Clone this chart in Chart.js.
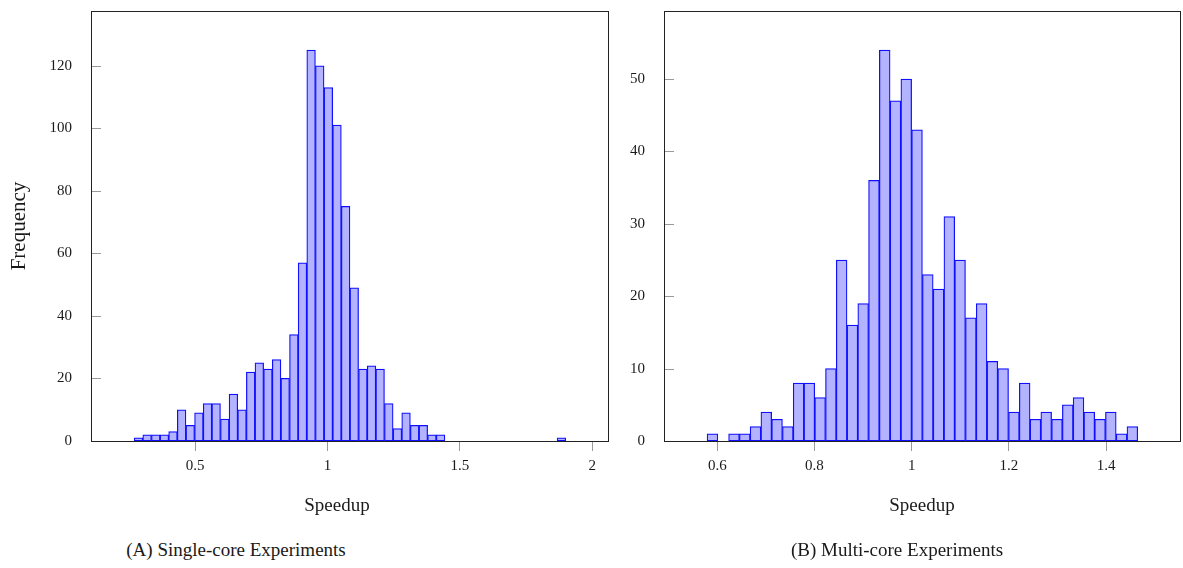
<!DOCTYPE html>
<html>
<head>
<meta charset="utf-8">
<script src="https://cdn.jsdelivr.net/npm/chart.js@4.4.1/dist/chart.umd.min.js"></script>
<style>
    body { margin: 0; width: 1183px; height: 568px; background: #fff; position: relative; overflow: hidden; font-family: "Liberation Serif", serif; color: #1a1a1a; }
    canvas { position: absolute; top: 0; }
    #single-chart { left: 0; }
    #multi-chart { left: 620px; }
    .label { position: absolute; white-space: nowrap; transform: translate(-50%, -50%); line-height: 1; }
    .axis-title { font-size: 19px; top: 504px; }
    .caption { font-size: 19px; top: 549px; }
</style>
</head>
<body>
<canvas id="single-chart" width="620" height="530"></canvas>
<canvas id="multi-chart" width="563" height="530"></canvas>
<div class="label axis-title" style="left: 337px">Speedup</div>
<div class="label axis-title" style="left: 922px">Speedup</div>
<div class="label caption" style="left: 236px">(A) Single-core Experiments</div>
<div class="label caption" style="left: 897px">(B) Multi-core Experiments</div>
<script>
// single-core histogram: 50 bins
const singleBinStart = 0.2696;
const singleBinWidth = 0.0326;
const singleCounts = [1, 2, 2, 2, 3, 10, 5, 9, 12, 12, 7, 15, 10, 22, 25, 23, 26, 20, 34, 57,
    125, 120, 113, 101, 75, 49, 23, 24, 23, 12, 4, 9, 5, 5, 2, 2, 0, 0, 0, 0,
    0, 0, 0, 0, 0, 0, 0, 0, 0, 1];
const singleXTicks = [0.5, 1, 1.5, 2];
const singleYTicks = [0, 20, 40, 60, 80, 100, 120];

// multi-core histogram: 40 bins
const multiBinStart = 0.579;
const multiBinWidth = 0.02215;
const multiCounts = [1, 0, 1, 1, 2, 4, 3, 2, 8, 8, 6, 10, 25, 16, 19, 36, 54, 47, 50, 43,
    23, 21, 31, 25, 17, 19, 11, 10, 4, 8, 3, 4, 3, 5, 6, 4, 3, 4, 1, 2];
const multiXTicks = [0.6, 0.8, 1, 1.2, 1.4];
const multiYTicks = [0, 10, 20, 30, 40, 50];

const barFill = "#b3b3ff";
const barLine = "#1010ff";
const tickGray = "#9a9a9a";
const textColor = "#1a1a1a";

const framePlugin = {
    id: "frame",
    afterDatasetsDraw(chart) {
        const { ctx, chartArea: a, scales } = chart;
        ctx.save();
        // y ticks point into the plot
        ctx.strokeStyle = tickGray;
        ctx.lineWidth = 1;
        scales.y.ticks.forEach((t) => {
            const y = Math.round(scales.y.getPixelForValue(t.value)) + 0.5;
            ctx.beginPath();
            ctx.moveTo(a.left, y);
            ctx.lineTo(a.left + 10, y);
            ctx.stroke();
        });
        ctx.strokeStyle = "#222";
        ctx.strokeRect(a.left + 0.5, a.top + 0.5, a.right - a.left - 1, a.bottom - a.top);
        ctx.restore();
    }
};

function histogram(canvasId, start, width, counts, xTicks, yTicks, xRange, yMax, yTitle, yAxisWidth, padRight) {
    const points = counts.map((count, i) => ({ x: start + (i + 0.5) * width, y: count }));
    return new Chart(document.getElementById(canvasId), {
        type: "bar",
        data: { datasets: [{ data: points, backgroundColor: barFill, borderColor: barLine, borderWidth: 1.25, borderSkipped: false, barPercentage: 1, categoryPercentage: 1 }] },
        options: {
            responsive: false,
            animation: false,
            layout: { padding: { top: 11, right: padRight, left: 0, bottom: 0 } },
            plugins: { legend: { display: false }, tooltip: { enabled: false } },
            scales: {
                x: {
                    type: "linear",
                    offset: false,
                    min: xRange[0],
                    max: xRange[1],
                    afterBuildTicks: (axis) => { axis.ticks = xTicks.map((v) => ({ value: v })); },
                    afterFit: (axis) => { axis.height = 89; axis.paddingLeft = 0; axis.paddingRight = 0; },
                    grid: { offset: false, drawOnChartArea: false, drawTicks: true, tickLength: 10, color: tickGray },
                    border: { display: false },
                    ticks: { padding: 6, color: textColor, font: { family: "Liberation Serif", size: 15 }, callback: (v) => String(v), maxRotation: 0 }
                },
                y: {
                    min: 0,
                    max: yMax,
                    afterBuildTicks: (axis) => { axis.ticks = yTicks.map((v) => ({ value: v })); },
                    afterFit: (axis) => { axis.width = yAxisWidth; axis.paddingTop = 0; axis.paddingBottom = 0; },
                    grid: { display: false },
                    border: { display: false },
                    ticks: { padding: 11, color: textColor, font: { family: "Liberation Serif", size: 15 } },
                    title: { display: !!yTitle, text: yTitle, color: textColor, font: { family: "Liberation Serif", size: 21 }, padding: { top: 7, bottom: 0 } }
                }
            }
        },
        plugins: [framePlugin]
    });
}

histogram("single-chart", singleBinStart, singleBinWidth, singleCounts, singleXTicks, singleYTicks, [0.1066, 2.063], 137.5, "Frequency", 91, 11);
histogram("multi-chart", multiBinStart, multiBinWidth, multiCounts, multiXTicks, multiYTicks, [0.4904, 1.554], 59.4, "", 44, 2);
</script>
</body>
</html>
